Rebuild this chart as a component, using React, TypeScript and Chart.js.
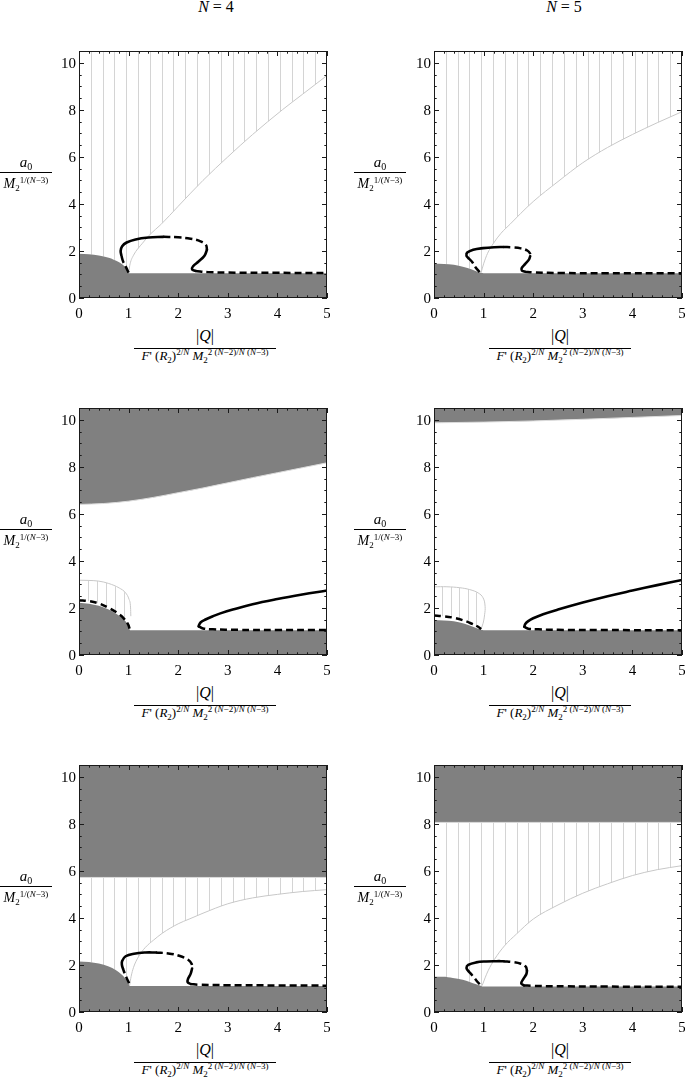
import React, { useEffect, useRef } from "react";
import { Chart, registerables } from "chart.js";
Chart.register(...registerables);

type Pt = [number, number];

// ---------- axes ----------
const X_MIN = 0;
const X_MAX = 5;
const Y_MIN = 0;
const Y_MAX = 10.5;
const xTickLabels = [0, 1, 2, 3, 4, 5];
const yTickLabels = [0, 2, 4, 6, 8, 10];
const xMinorTicks = [0.2, 0.4, 0.6, 0.8, 1.2, 1.4, 1.6, 1.8, 2.2, 2.4, 2.6, 2.8, 3.2, 3.4, 3.6, 3.8, 4.2, 4.4, 4.6, 4.8];
const yMinorTicks = [0.5, 1, 1.5, 2.5, 3, 3.5, 4.5, 5, 5.5, 6.5, 7, 7.5, 8.5, 9, 9.5, 10.5];
const columnTitles = ["4", "5"];

// hatch line positions
const hatchWide = [0.238, 0.476, 0.714, 0.952, 1.19, 1.429, 1.667, 1.905, 2.143, 2.381, 2.619, 2.857, 3.095, 3.333, 3.571, 3.81, 4.048, 4.286, 4.524, 4.762];
const hatchSmallC = [0.18, 0.36, 0.54, 0.72, 0.9];
const hatchSmallD = [0.17, 0.34, 0.51, 0.68, 0.85];
const topBand: Pt[] = [[0, 11], [5, 11]];

// ---------- panel A : N=4, row 1 ----------
const a4Gray: Pt[] = [[0, 1.88], [0.2, 1.86], [0.4, 1.81], [0.6, 1.71], [0.7, 1.63], [0.8, 1.53], [0.87, 1.44], [0.93, 1.33], [0.97, 1.22], [0.99, 1.14], [1.005, 1.05], [5, 1.05]];
const a4Thin: Pt[] = [[1.0, 1.07], [1.03, 1.45], [1.1, 1.82], [1.28, 2.33], [1.44, 2.72], [1.65, 3.12], [2.0, 3.9], [2.5, 5.0], [3.0, 6.0], [3.5, 6.95], [4.1, 8.0], [4.5, 8.65], [5.0, 9.46]];
const a4DashA: Pt[] = [[1.0, 1.08], [0.95, 1.3], [0.89, 1.55], [0.855, 1.8]];
const a4SolidA: Pt[] = [[0.855, 1.8], [0.84, 2.0], [0.87, 2.2], [0.96, 2.36], [1.14, 2.49], [1.4, 2.57], [1.7, 2.6]];
const a4DashB: Pt[] = [[1.7, 2.6], [2.0, 2.58], [2.25, 2.52], [2.45, 2.41], [2.56, 2.25], [2.58, 2.05]];
const a4SolidB: Pt[] = [[2.58, 2.05], [2.53, 1.8], [2.41, 1.55], [2.3, 1.35], [2.28, 1.22], [2.35, 1.15]];
const a4DashC: Pt[] = [[2.35, 1.15], [2.6, 1.1], [3.0, 1.08], [4.0, 1.07], [5.0, 1.06]];

// ---------- panel B : N=5, row 1 ----------
const b5Gray: Pt[] = [[0, 1.46], [0.2, 1.45], [0.4, 1.41], [0.6, 1.32], [0.75, 1.22], [0.85, 1.14], [0.95, 1.07], [1.0, 1.05], [5, 1.05]];
const b5Thin: Pt[] = [[0.95, 1.08], [1.0, 1.45], [1.08, 1.9], [1.2, 2.33], [1.35, 2.75], [1.54, 3.15], [1.75, 3.6], [2.0, 4.1], [2.5, 4.95], [3.0, 5.75], [3.5, 6.4], [4.0, 6.95], [4.5, 7.45], [5.0, 7.92]];
const b5DashA: Pt[] = [[0.92, 1.1], [0.84, 1.3], [0.77, 1.53], [0.69, 1.7]];
const b5SolidA: Pt[] = [[0.69, 1.7], [0.655, 1.8], [0.67, 1.93], [0.79, 2.05], [0.99, 2.12], [1.22, 2.16], [1.4, 2.17]];
const b5DashB: Pt[] = [[1.4, 2.17], [1.6, 2.15], [1.75, 2.11], [1.88, 2.02], [1.94, 1.88], [1.94, 1.78]];
const b5SolidB: Pt[] = [[1.94, 1.78], [1.91, 1.62], [1.84, 1.45], [1.77, 1.28], [1.77, 1.17], [1.83, 1.12]];
const b5DashC: Pt[] = [[1.83, 1.12], [2.0, 1.09], [2.6, 1.06], [3.5, 1.055], [5, 1.05]];

// ---------- panel C : N=4, row 2 ----------
const c4Gray: Pt[] = [[0, 2.22], [0.2, 2.18], [0.4, 2.09], [0.6, 1.93], [0.75, 1.75], [0.87, 1.57], [0.95, 1.4], [1.0, 1.25], [1.03, 1.05], [5, 1.05]];
const c4Top: Pt[] = [[0, 6.4], [0.5, 6.44], [1, 6.54], [1.5, 6.7], [2, 6.9], [2.5, 7.1], [3, 7.32], [3.5, 7.54], [4, 7.75], [4.5, 7.96], [5, 8.17]];
const c4Thin: Pt[] = [[0, 3.18], [0.2, 3.17], [0.4, 3.14], [0.6, 3.04], [0.81, 2.85], [0.94, 2.64], [1.01, 2.36], [1.04, 2.0], [1.045, 1.65]];
const c4DashLeft: Pt[] = [[0, 2.33], [0.2, 2.29], [0.4, 2.19], [0.6, 2.0], [0.77, 1.79], [0.91, 1.54], [0.99, 1.3], [1.02, 1.12]];
const c4Solid: Pt[] = [[2.41, 1.22], [2.45, 1.38], [2.55, 1.51], [2.7, 1.65], [2.85, 1.77], [3.1, 1.93], [3.5, 2.16], [4.0, 2.38], [4.5, 2.57], [5.0, 2.74]];
const c4DashRight: Pt[] = [[2.41, 1.22], [2.5, 1.13], [2.7, 1.09], [3.2, 1.07], [4, 1.06], [5, 1.06]];

// ---------- panel D : N=5, row 2 ----------
const d5Gray: Pt[] = [[0, 1.49], [0.2, 1.47], [0.4, 1.43], [0.6, 1.34], [0.72, 1.25], [0.85, 1.15], [0.95, 1.07], [1.0, 1.05], [5, 1.05]];
const d5Top: Pt[] = [[0, 9.87], [1, 9.9], [2, 9.95], [3, 10.02], [4, 10.1], [5, 10.18]];
const d5Thin: Pt[] = [[0, 2.9], [0.26, 2.9], [0.52, 2.86], [0.72, 2.78], [0.89, 2.64], [0.99, 2.43], [1.03, 2.07], [1.02, 1.71], [0.99, 1.35], [0.95, 1.12]];
const d5DashLeft: Pt[] = [[0, 1.68], [0.18, 1.65], [0.38, 1.59], [0.58, 1.48], [0.75, 1.34], [0.89, 1.2], [0.95, 1.1]];
const d5Solid: Pt[] = [[1.82, 1.2], [1.84, 1.32], [1.9, 1.44], [2.0, 1.56], [2.2, 1.73], [2.5, 1.93], [3.0, 2.23], [3.5, 2.5], [4.0, 2.74], [4.5, 2.97], [5.0, 3.19]];
const d5DashRight: Pt[] = [[1.82, 1.2], [1.9, 1.12], [2.1, 1.09], [2.5, 1.07], [3.5, 1.06], [5, 1.05]];

// ---------- panel E : N=4, row 3 ----------
const e4Gray: Pt[] = [[0, 2.15], [0.2, 2.13], [0.4, 2.06], [0.6, 1.93], [0.74, 1.79], [0.87, 1.57], [0.95, 1.38], [1.0, 1.2], [1.03, 1.1], [5, 1.1]];
const e4Top: Pt[] = [[0, 5.72], [5, 5.72]];
const e4Thin: Pt[] = [[1.02, 1.12], [1.05, 1.5], [1.1, 1.9], [1.2, 2.35], [1.34, 2.75], [1.5, 3.05], [1.68, 3.35], [2.0, 3.75], [2.22, 3.95], [2.5, 4.2], [3.0, 4.6], [3.5, 4.85], [4.0, 5.0], [4.5, 5.12], [5.0, 5.2]];
const e4DashA: Pt[] = [[1.01, 1.22], [0.96, 1.45], [0.92, 1.65], [0.885, 1.85]];
const e4SolidA: Pt[] = [[0.885, 1.85], [0.865, 2.0], [0.87, 2.17], [0.94, 2.37], [1.11, 2.48], [1.34, 2.53], [1.55, 2.53]];
const e4DashB: Pt[] = [[1.55, 2.53], [1.8, 2.49], [2.02, 2.39], [2.2, 2.22], [2.27, 2.05], [2.28, 1.85]];
const e4SolidB: Pt[] = [[2.28, 1.85], [2.25, 1.62], [2.2, 1.42], [2.19, 1.27], [2.25, 1.19]];
const e4DashC: Pt[] = [[2.25, 1.19], [2.42, 1.16], [3.0, 1.14], [4.0, 1.13], [5.0, 1.12]];

// ---------- panel F : N=5, row 3 ----------
const f5Gray: Pt[] = [[0, 1.5], [0.18, 1.5], [0.38, 1.45], [0.58, 1.37], [0.72, 1.28], [0.85, 1.18], [0.95, 1.11], [1.0, 1.08], [5, 1.08]];
const f5Top: Pt[] = [[0, 8.06], [5, 8.06]];
const f5Thin: Pt[] = [[0.97, 1.12], [1.03, 1.45], [1.09, 1.75], [1.22, 2.24], [1.42, 2.81], [1.66, 3.31], [2.0, 3.95], [2.5, 4.55], [3.0, 5.05], [3.5, 5.45], [4.0, 5.8], [4.5, 6.05], [5.0, 6.22]];
const f5DashA: Pt[] = [[0.92, 1.18], [0.85, 1.35], [0.79, 1.51], [0.69, 1.75]];
const f5SolidA: Pt[] = [[0.69, 1.75], [0.655, 1.87], [0.69, 2.0], [0.85, 2.11], [1.05, 2.15], [1.26, 2.16], [1.4, 2.16]];
const f5DashB: Pt[] = [[1.4, 2.16], [1.6, 2.12], [1.75, 2.05], [1.85, 1.93], [1.875, 1.75]];
const f5SolidB: Pt[] = [[1.875, 1.75], [1.86, 1.6], [1.8, 1.4], [1.76, 1.22], [1.81, 1.13]];
const f5DashC: Pt[] = [[1.81, 1.13], [2.0, 1.11], [2.67, 1.09], [3.5, 1.08], [5, 1.07]];

// ---------- styling ----------
const GRAY = "#808080";
const THIN = "#c8c8c8";
const HATCH = "#d4d4d4";
const EDGE = "#dcdcdc";
const FONT = '"Times New Roman", "Liberation Serif", Tinos, "Nimbus Roman", "DejaVu Serif", serif';

const PAD_L = 32, PAD_T = 6, PAD_R = 3, PAD_B = 26;
const PLOT_W = 248, PLOT_H = 247;
const colLeft = [79, 434];
const rowTop = [51, 408, 765];
const CW = PAD_L + PLOT_W + PAD_R;
const CH = PAD_T + PLOT_H + PAD_B;

interface ThinSpec { pts: Pt[]; monotone: boolean }
interface PanelSpec {
  grayLow: Pt[];
  grayTop?: Pt[];
  thin: ThinSpec[];
  solids: Pt[][];
  dashes: Pt[][];
  hatch: { lower: Pt[]; upper: Pt[]; xs: number[] };
}

const panels: { spec: PanelSpec; col: number; row: number }[] = [
  {
    col: 0, row: 0,
    spec: {
      grayLow: a4Gray,
      thin: [{ pts: a4Thin, monotone: true }],
      solids: [a4SolidA, a4SolidB],
      dashes: [a4DashA, a4DashB, a4DashC],
      hatch: { lower: [...a4Gray.filter((p) => p[0] < 1), ...a4Thin], upper: topBand, xs: hatchWide },
    },
  },
  {
    col: 1, row: 0,
    spec: {
      grayLow: b5Gray,
      thin: [{ pts: b5Thin, monotone: true }],
      solids: [b5SolidA, b5SolidB],
      dashes: [b5DashA, b5DashB, b5DashC],
      hatch: { lower: [...b5Gray.filter((p) => p[0] < 0.95), ...b5Thin], upper: topBand, xs: hatchWide },
    },
  },
  {
    col: 0, row: 1,
    spec: {
      grayLow: c4Gray,
      grayTop: c4Top,
      thin: [{ pts: c4Thin, monotone: true }],
      solids: [c4Solid],
      dashes: [c4DashLeft, c4DashRight],
      hatch: { lower: c4DashLeft, upper: c4Thin, xs: hatchSmallC },
    },
  },
  {
    col: 1, row: 1,
    spec: {
      grayLow: d5Gray,
      grayTop: d5Top,
      thin: [{ pts: d5Thin, monotone: false }],
      solids: [d5Solid],
      dashes: [d5DashLeft, d5DashRight],
      hatch: { lower: d5DashLeft, upper: d5Thin, xs: hatchSmallD },
    },
  },
  {
    col: 0, row: 2,
    spec: {
      grayLow: e4Gray,
      grayTop: e4Top,
      thin: [{ pts: e4Thin, monotone: true }],
      solids: [e4SolidA, e4SolidB],
      dashes: [e4DashA, e4DashB, e4DashC],
      hatch: { lower: [...e4Gray.filter((p) => p[0] < 1.02), ...e4Thin], upper: e4Top, xs: hatchWide },
    },
  },
  {
    col: 1, row: 2,
    spec: {
      grayLow: f5Gray,
      grayTop: f5Top,
      thin: [{ pts: f5Thin, monotone: true }],
      solids: [f5SolidA, f5SolidB],
      dashes: [f5DashA, f5DashB, f5DashC],
      hatch: { lower: [...f5Gray.filter((p) => p[0] < 0.97), ...f5Thin], upper: f5Top, xs: hatchWide },
    },
  },
];

function decorPlugin(spec: PanelSpec) {
  return {
    id: "decor",
    beforeDatasetsDraw(chart: any) {
      const { ctx, chartArea: a, scales } = chart;
      const xs = scales.x, ys = scales.y;
      const h = spec.hatch;
      ctx.save();
      ctx.beginPath();
      ctx.rect(a.left, a.top, a.right - a.left, a.bottom - a.top);
      ctx.clip();
      const poly: Pt[] = [...h.lower, ...h.upper.slice().reverse()];
      ctx.beginPath();
      poly.forEach(([vx, vy], i) => {
        const px = xs.getPixelForValue(vx);
        const py = ys.getPixelForValue(vy);
        if (i === 0) ctx.moveTo(px, py);
        else ctx.lineTo(px, py);
      });
      ctx.closePath();
      ctx.clip();
      ctx.strokeStyle = HATCH;
      ctx.lineWidth = 1;
      ctx.beginPath();
      h.xs.forEach((v) => {
        const px = Math.round(xs.getPixelForValue(v)) + 0.5;
        ctx.moveTo(px, a.top);
        ctx.lineTo(px, a.bottom);
      });
      ctx.stroke();
      ctx.restore();
    },
    afterDatasetsDraw(chart: any) {
      const { ctx, chartArea: a, scales } = chart;
      const xs = scales.x, ys = scales.y;
      ctx.save();
      ctx.strokeStyle = "#1a1a1a";
      ctx.lineWidth = 1;
      ctx.strokeRect(a.left + 0.5, a.top + 0.5, a.right - a.left - 1, a.bottom - a.top - 1);
      ctx.beginPath();
      const xt = (v: number, len: number) => {
        const px = Math.round(xs.getPixelForValue(v)) + 0.5;
        ctx.moveTo(px, a.bottom);
        ctx.lineTo(px, a.bottom - len);
        ctx.moveTo(px, a.top);
        ctx.lineTo(px, a.top + len);
      };
      const yt = (v: number, len: number) => {
        const py = Math.round(ys.getPixelForValue(v)) + 0.5;
        ctx.moveTo(a.left, py);
        ctx.lineTo(a.left + len, py);
        ctx.moveTo(a.right, py);
        ctx.lineTo(a.right - len, py);
      };
      xTickLabels.forEach((v) => xt(v, 5));
      xMinorTicks.forEach((v) => xt(v, 2.7));
      yTickLabels.forEach((v) => yt(v, 5));
      yMinorTicks.forEach((v) => yt(v, 2.7));
      ctx.stroke();
      ctx.fillStyle = "#000";
      ctx.font = `15px ${FONT}`;
      ctx.textBaseline = "alphabetic";
      ctx.textAlign = "center";
      xTickLabels.forEach((v) => {
        ctx.fillText(String(v), xs.getPixelForValue(v), a.bottom + 20);
      });
      ctx.textAlign = "right";
      yTickLabels.forEach((v) => {
        ctx.fillText(String(v), a.left - 3, ys.getPixelForValue(v) + 5);
      });
      ctx.restore();
    },
  };
}

function buildConfig(spec: PanelSpec): any {
  const toXY = (pts: Pt[]) => pts.map(([x, y]) => ({ x, y }));
  const datasets: any[] = [];
  spec.solids.forEach((s) =>
    datasets.push({
      data: toXY(s), borderColor: "#000", borderWidth: 2.6, tension: 0.4,
      pointRadius: 0, fill: false, order: 0, borderCapStyle: "round",
    })
  );
  spec.dashes.forEach((s) =>
    datasets.push({
      data: toXY(s), borderColor: "#000", borderWidth: 2.5, tension: 0.4,
      borderDash: [7, 4], pointRadius: 0, fill: false, order: 0, borderCapStyle: "butt",
    })
  );
  spec.thin.forEach((t) =>
    datasets.push({
      data: toXY(t.pts), borderColor: THIN, borderWidth: 1,
      cubicInterpolationMode: t.monotone ? "monotone" : "default",
      tension: 0.4, pointRadius: 0, fill: false, order: 1,
    })
  );
  datasets.push({
    data: toXY(spec.grayLow), borderColor: "rgba(0,0,0,0)", borderWidth: 1,
    backgroundColor: GRAY, fill: "origin", cubicInterpolationMode: "monotone",
    pointRadius: 0, order: 2,
  });
  if (spec.grayTop) {
    datasets.push({
      data: toXY(spec.grayTop), borderColor: EDGE, borderWidth: 1,
      backgroundColor: GRAY, fill: "end", cubicInterpolationMode: "monotone",
      pointRadius: 0, order: 2,
    });
  }
  return {
    type: "line",
    data: { datasets },
    options: {
      responsive: false,
      animation: false,
      events: [],
      layout: { padding: { left: PAD_L, top: PAD_T, right: PAD_R, bottom: PAD_B } },
      scales: {
        x: { type: "linear", min: X_MIN, max: X_MAX, display: false },
        y: { type: "linear", min: Y_MIN, max: Y_MAX, display: false },
      },
      plugins: { legend: { display: false }, tooltip: { enabled: false } },
    },
    plugins: [decorPlugin(spec)],
  };
}

function Panel({ spec, col, row }: { spec: PanelSpec; col: number; row: number }) {
  const ref = useRef<HTMLCanvasElement>(null);
  useEffect(() => {
    const chart = new Chart(ref.current as HTMLCanvasElement, buildConfig(spec));
    return () => chart.destroy();
  }, [spec]);
  return (
    <canvas
      ref={ref}
      width={CW}
      height={CH}
      style={{
        position: "absolute",
        left: colLeft[col] - PAD_L,
        top: rowTop[row] - PAD_T,
        width: CW,
        height: CH,
      }}
    />
  );
}

const Sup = ({ children }: { children: React.ReactNode }) => (
  <span style={{ fontSize: 9, position: "relative", top: -5 }}>{children}</span>
);
const Sub = ({ children, size = 9 }: { children: React.ReactNode; size?: number }) => (
  <span style={{ fontSize: size, position: "relative", top: 3 }}>{children}</span>
);

function XLabel({ cx, bottom }: { cx: number; bottom: number }) {
  return (
    <>
      <div style={{ position: "absolute", left: cx - 100, width: 200, top: bottom + 29, textAlign: "center", fontSize: 16, lineHeight: "18px" }}>
        |<i>Q</i>|
      </div>
      <div style={{ position: "absolute", left: cx - 71, width: 142, top: bottom + 50, height: 0, borderTop: "1px solid #000" }} />
      <div style={{ position: "absolute", left: cx - 110, width: 220, top: bottom + 51, textAlign: "center", fontSize: 13, lineHeight: "14px", whiteSpace: "nowrap" }}>
        <i>F</i>' (<i>R</i><Sub>2</Sub>)<Sup>2/<i>N</i></Sup> <i>M</i><Sub>2</Sub><Sup>2 (<i>N</i>−2)/<i>N</i> (<i>N</i>−3)</Sup>
      </div>
    </>
  );
}

function YLabel({ cx, cy }: { cx: number; cy: number }) {
  return (
    <>
      <div style={{ position: "absolute", left: cx - 40, width: 80, top: cy - 22, textAlign: "center", fontSize: 15, lineHeight: "18px" }}>
        <i>a</i><Sub size={10}>0</Sub>
      </div>
      <div style={{ position: "absolute", left: cx - 26, width: 52, top: cy - 3, height: 0, borderTop: "1px solid #000" }} />
      <div style={{ position: "absolute", left: cx - 40, width: 80, top: cy + 1, textAlign: "center", fontSize: 14, lineHeight: "16px", whiteSpace: "nowrap" }}>
        <i>M</i><Sub>2</Sub><Sup>1/(<i>N</i>−3)</Sup>
      </div>
    </>
  );
}

const titleCenters = [216, 564];
const yLabelCenters = [26, 380];

export default function App() {
  return (
    <div style={{ position: "absolute", left: 0, top: 0, width: 685, height: 1083, background: "#fff", fontFamily: FONT, color: "#000", overflow: "hidden" }}>
      {columnTitles.map((t, i) => (
        <div key={"t" + i} style={{ position: "absolute", left: titleCenters[i] - 40, width: 80, top: -1, textAlign: "center", fontSize: 16, lineHeight: "16px" }}>
          <i>N</i> = {t}
        </div>
      ))}
      {panels.map((p, i) => (
        <React.Fragment key={"p" + i}>
          <Panel spec={p.spec} col={p.col} row={p.row} />
          <XLabel cx={colLeft[p.col] + PLOT_W / 2 + 2} bottom={rowTop[p.row] + PLOT_H} />
          <YLabel cx={yLabelCenters[p.col]} cy={rowTop[p.row] + PLOT_H / 2} />
        </React.Fragment>
      ))}
    </div>
  );
}
